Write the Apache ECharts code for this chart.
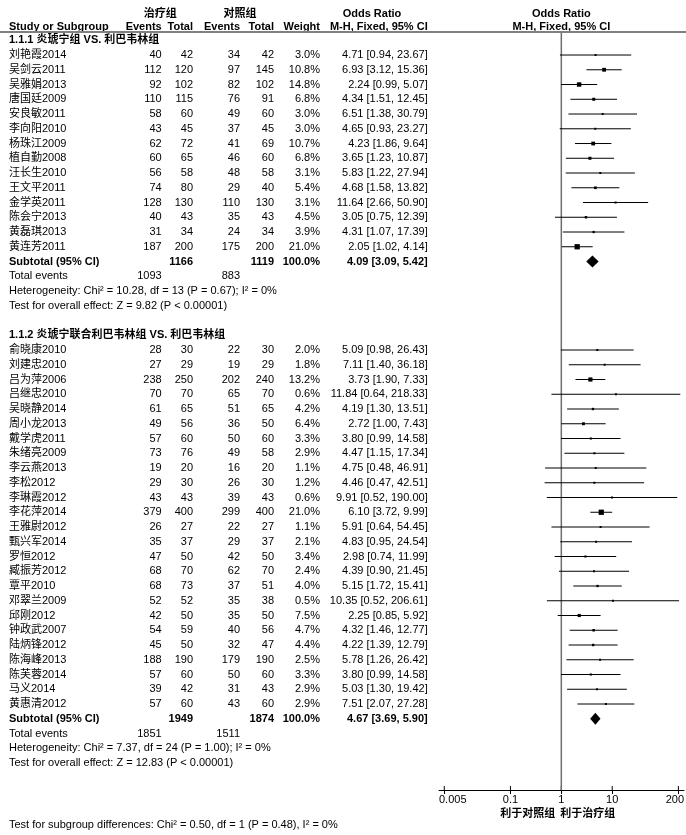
<!DOCTYPE html>
<html>
<head>
<meta charset="utf-8">
<script src="https://cdn.jsdelivr.net/npm/echarts@6/dist/echarts.min.js"></script>
<style>
html, body { margin: 0; padding: 0; background: #fff; }
#chart { width: 686px; height: 835px; }
</style>
</head>
<body>
<div id="chart"></div>
<script>
// ---- Subgroup 1.1.1 ----
const groupTitles = ['1.1.1 炎琥宁组 VS. 利巴韦林组', '1.1.2 炎琥宁联合利巴韦林组 VS. 利巴韦林组'];

const studies1 = ['刘艳霞2014', '吴剑云2011', '吴雅娟2013', '唐国廷2009', '安良敏2011', '李向阳2010', '杨珠江2009',
  '植自勤2008', '汪长生2010', '王文平2011', '金学英2011', '陈会宁2013', '黄磊琪2013', '黄连芳2011'];
const expEvents1 = [40, 112, 92, 110, 58, 43, 62, 60, 56, 74, 128, 40, 31, 187];
const expTotal1 = [42, 120, 102, 115, 60, 45, 72, 65, 58, 80, 130, 43, 34, 200];
const ctlEvents1 = [34, 97, 82, 76, 49, 37, 41, 46, 48, 29, 110, 35, 24, 175];
const ctlTotal1 = [42, 145, 102, 91, 60, 45, 69, 60, 58, 40, 130, 43, 34, 200];
const weight1 = [3.0, 10.8, 14.8, 6.8, 3.0, 3.0, 10.7, 6.8, 3.1, 5.4, 3.1, 4.5, 3.9, 21.0];
const or1 = [4.71, 6.93, 2.24, 4.34, 6.51, 4.65, 4.23, 3.65, 5.83, 4.68, 11.64, 3.05, 4.31, 2.05];
const lo1 = [0.94, 3.12, 0.99, 1.51, 1.38, 0.93, 1.86, 1.23, 1.22, 1.58, 2.66, 0.75, 1.07, 1.02];
const hi1 = [23.67, 15.36, 5.07, 12.45, 30.79, 23.27, 9.64, 10.87, 27.94, 13.82, 50.90, 12.39, 17.39, 4.14];

// ---- Subgroup 1.1.2 ----
const studies2 = ['俞晓康2010', '刘建忠2010', '吕为萍2006', '吕继忠2010', '吴晓静2014', '周小龙2013', '戴学虎2011',
  '朱绪亮2009', '李云燕2013', '李松2012', '李琳霞2012', '李花萍2014', '王雅尉2012', '甄兴军2014', '罗恒2012',
  '臧振芳2012', '覃平2010', '邓翠兰2009', '邱刚2012', '钟政武2007', '陆炳锋2012', '陈海峰2013', '陈芙蓉2014',
  '马义2014', '黄惠清2012'];
const expEvents2 = [28, 27, 238, 70, 61, 49, 57, 73, 19, 29, 43, 379, 26, 35, 47, 68, 68, 52, 42, 54, 45, 188, 57, 39, 57];
const expTotal2 = [30, 29, 250, 70, 65, 56, 60, 76, 20, 30, 43, 400, 27, 37, 50, 70, 73, 52, 50, 59, 50, 190, 60, 42, 60];
const ctlEvents2 = [22, 19, 202, 65, 51, 36, 50, 49, 16, 26, 39, 299, 22, 29, 42, 62, 37, 35, 35, 40, 32, 179, 50, 31, 43];
const ctlTotal2 = [30, 29, 240, 70, 65, 50, 60, 58, 20, 30, 43, 400, 27, 37, 50, 70, 51, 38, 50, 56, 47, 190, 60, 43, 60];
const weight2 = [2.0, 1.8, 13.2, 0.6, 4.2, 6.4, 3.3, 2.9, 1.1, 1.2, 0.6, 21.0, 1.1, 2.1, 3.4, 2.4, 4.0, 0.5, 7.5, 4.7, 4.4, 2.5, 3.3, 2.9, 2.9];
const or2 = [5.09, 7.11, 3.73, 11.84, 4.19, 2.72, 3.80, 4.47, 4.75, 4.46, 9.91, 6.10, 5.91, 4.83, 2.98, 4.39, 5.15, 10.35, 2.25, 4.32, 4.22, 5.78, 3.80, 5.03, 7.51];
const lo2 = [0.98, 1.40, 1.90, 0.64, 1.30, 1.00, 0.99, 1.15, 0.48, 0.47, 0.52, 3.72, 0.64, 0.95, 0.74, 0.90, 1.72, 0.52, 0.85, 1.46, 1.39, 1.26, 0.99, 1.30, 2.07];
const hi2 = [26.43, 36.18, 7.33, 218.33, 13.51, 7.43, 14.58, 17.34, 46.91, 42.51, 190.00, 9.99, 54.45, 24.54, 11.99, 21.45, 15.41, 206.61, 5.92, 12.77, 12.79, 26.42, 14.58, 19.42, 27.28];

// ---- Subtotals and summary statistics per subgroup ----
const subExpTotal = [1166, 1949];
const subCtlTotal = [1119, 1874];
const subOR = [4.09, 4.67];
const subLo = [3.09, 3.69];
const subHi = [5.42, 5.90];
const totalExpEvents = [1093, 1851];
const totalCtlEvents = [883, 1511];
const heterogeneity = ['Heterogeneity: Chi² = 10.28, df = 13 (P = 0.67); I² = 0%',
  'Heterogeneity: Chi² = 7.37, df = 24 (P = 1.00); I² = 0%'];
const overallEffect = ['Test for overall effect: Z = 9.82 (P < 0.00001)',
  'Test for overall effect: Z = 12.83 (P < 0.00001)'];
const subgroupDiff = 'Test for subgroup differences: Chi² = 0.50, df = 1 (P = 0.48), I² = 0%';

// ---- Axis ----
const axisTicks = [0.005, 0.1, 1, 10, 200];
const axisTickLabels = ['0.005', '0.1', '1', '10', '200'];
const favoursLabels = ['利于对照组', '利于治疗组'];

// ---- Layout (row units on the shared vertical axis) ----
const ROW_MIN = -2.73, ROW_MAX = 50.83;
const HEAD_ROW1 = -1.8, HEAD_ROW2 = -0.9, RULE_ROW = -0.56;
const TICK_LABEL_ROW = 51.5, FAVOURS_ROW = 52.45, FOOTNOTE_ROW = 53.2;
const X_MIN = 0.00394, X_MAX = 258;
const COL = { name: 9, e1: 161.7, t1: 193, e2: 240, t2: 274, w: 320, or: 427.7 };
const FONT = '"Liberation Sans", Arial, "Noto Sans CJK SC", sans-serif';

const groups = [
  { studies: studies1, ee: expEvents1, et: expTotal1, ce: ctlEvents1, ct: ctlTotal1, w: weight1, or: or1, lo: lo1, hi: hi1 },
  { studies: studies2, ee: expEvents2, et: expTotal2, ce: ctlEvents2, ct: ctlTotal2, w: weight2, or: or2, lo: lo2, hi: hi2 }
];

const fmtCI = (o, l, h) => o.toFixed(2) + ' [' + l.toFixed(2) + ', ' + h.toFixed(2) + ']';

// Table cells (left grid) and marks (right grid)
const cells = [];
const plotCells = [];
const studyMarks = [];
const subMarks = [];
const cell = (x, r, text, align, bold) => cells.push({ x, r, text: String(text), align: align || 'right', bold: !!bold });

// Column headers
cell((COL.e1 - 34 + COL.t1) / 2, HEAD_ROW1, '治疗组', 'center', true);
cell((COL.e2 - 34 + COL.t2) / 2, HEAD_ROW1, '对照组', 'center', true);
cell(372, HEAD_ROW1, 'Odds Ratio', 'center', true);
cell(COL.name, HEAD_ROW2, 'Study or Subgroup', 'left', true);
cell(COL.e1, HEAD_ROW2, 'Events', 'right', true);
cell(COL.t1, HEAD_ROW2, 'Total', 'right', true);
cell(COL.e2, HEAD_ROW2, 'Events', 'right', true);
cell(COL.t2, HEAD_ROW2, 'Total', 'right', true);
cell(COL.w, HEAD_ROW2, 'Weight', 'right', true);
cell(COL.or, HEAD_ROW2, 'M-H, Fixed, 95% CI', 'right', true);
plotCells.push({ x: 1, r: HEAD_ROW1, text: 'Odds Ratio', align: 'center', bold: true });
plotCells.push({ x: 1, r: HEAD_ROW2, text: 'M-H, Fixed, 95% CI', align: 'center', bold: true });

let row = 0;
groups.forEach((g, gi) => {
  cell(COL.name, row, groupTitles[gi], 'left', true);
  row++;
  g.studies.forEach((s, i) => {
    cell(COL.name, row, s, 'left');
    cell(COL.e1, row, g.ee[i]);
    cell(COL.t1, row, g.et[i]);
    cell(COL.e2, row, g.ce[i]);
    cell(COL.t2, row, g.ct[i]);
    cell(COL.w, row, g.w[i].toFixed(1) + '%');
    cell(COL.or, row, fmtCI(g.or[i], g.lo[i], g.hi[i]));
    studyMarks.push([g.or[i], g.lo[i], g.hi[i], row, g.w[i]]);
    row++;
  });
  cell(COL.name, row, 'Subtotal (95% CI)', 'left', true);
  cell(COL.t1, row, subExpTotal[gi], 'right', true);
  cell(COL.t2, row, subCtlTotal[gi], 'right', true);
  cell(COL.w, row, '100.0%', 'right', true);
  cell(COL.or, row, fmtCI(subOR[gi], subLo[gi], subHi[gi]), 'right', true);
  subMarks.push([subOR[gi], subLo[gi], subHi[gi], row]);
  row++;
  cell(COL.name, row, 'Total events', 'left');
  cell(COL.e1, row, totalExpEvents[gi]);
  cell(COL.e2, row, totalCtlEvents[gi]);
  row++;
  cell(COL.name, row, heterogeneity[gi], 'left');
  row++;
  cell(COL.name, row, overallEffect[gi], 'left');
  row++;
  row++; // blank spacer row
});
cell(COL.name, FOOTNOTE_ROW, subgroupDiff, 'left');
plotCells.push({ x: 1, r: FAVOURS_ROW, text: favoursLabels[0], align: 'right', bold: true, dx: -6 });
plotCells.push({ x: 1, r: FAVOURS_ROW, text: favoursLabels[1], align: 'left', bold: true, dx: -1 });

const textFont = bold => (bold ? 'bold ' : '') + '11px ' + FONT;

function textRenderer(list) {
  return function (params, api) {
    const c = list[params.dataIndex];
    const p = api.coord([c.x, c.r]);
    return {
      type: 'text',
      x: p[0] + (c.dx || 0),
      y: p[1],
      style: { text: c.text, align: c.align, verticalAlign: 'middle', font: textFont(c.bold), fill: '#000' }
    };
  };
}

const yAxisBase = { type: 'value', inverse: true, min: ROW_MIN, max: ROW_MAX, show: false };

const chart = echarts.init(document.getElementById('chart'), null, { renderer: 'canvas' });
chart.setOption({
  animation: false,
  backgroundColor: '#fff',
  grid: [
    { left: 0, width: 430, top: 0, bottom: 45, outerBoundsMode: 'none', containLabel: false },
    { left: 439, width: 245, top: 0, bottom: 45, outerBoundsMode: 'none', containLabel: false }
  ],
  xAxis: [
    { gridIndex: 0, type: 'value', min: 0, max: 430, show: false },
    {
      gridIndex: 1, type: 'log', logBase: 10, min: X_MIN, max: X_MAX, position: 'bottom',
      splitLine: { show: false },
      axisLine: { show: true, onZero: false, lineStyle: { color: '#000', width: 1 } },
      axisTick: { show: true, customValues: axisTicks, length: 4, inside: false, lineStyle: { color: '#000' } },
      axisLabel: { show: false }
    }
  ],
  yAxis: [
    Object.assign({ gridIndex: 0 }, yAxisBase),
    Object.assign({ gridIndex: 1 }, yAxisBase)
  ],
  graphic: [
    { type: 'line', z: 10, shape: { x1: 0, y1: 32, x2: 686, y2: 32 }, style: { stroke: '#808080', lineWidth: 2 } }
  ],
  series: [
    {
      type: 'custom', xAxisIndex: 0, yAxisIndex: 0,
      data: cells.map(c => [c.x, c.r]),
      renderItem: textRenderer(cells), silent: true
    },
    {
      type: 'custom', xAxisIndex: 1, yAxisIndex: 1,
      data: plotCells.map(c => [c.x, c.r]),
      renderItem: textRenderer(plotCells), silent: true
    },
    {
      // axis tick labels, end labels kept inside the axis line
      type: 'custom', xAxisIndex: 1, yAxisIndex: 1,
      data: axisTicks.map(t => [t, TICK_LABEL_ROW]),
      renderItem: (params, api) => {
        const i = params.dataIndex;
        const p = api.coord([api.value(0), api.value(1)]);
        const cs = params.coordSys;
        let x = p[0], align = 'center';
        if (i === 0) { x = cs.x; align = 'left'; }
        else if (i === axisTicks.length - 1) { x = cs.x + cs.width; align = 'right'; }
        return {
          type: 'text', x, y: p[1],
          style: { text: axisTickLabels[i], align, verticalAlign: 'middle', font: textFont(false), fill: '#000' }
        };
      }, silent: true
    },
    {
      // upper half of the crossing axis ticks
      type: 'custom', xAxisIndex: 1, yAxisIndex: 1,
      data: axisTicks.map(t => [t, ROW_MAX]),
      renderItem: (params, api) => {
        const p = api.coord([api.value(0), api.value(1)]);
        return { type: 'line', shape: { x1: p[0], y1: p[1] - 4, x2: p[0], y2: p[1] }, style: { stroke: '#000', lineWidth: 1 } };
      }, silent: true
    },
    {
      // line of no effect (OR = 1)
      type: 'custom', xAxisIndex: 1, yAxisIndex: 1,
      data: [[1, RULE_ROW, ROW_MAX]],
      renderItem: (params, api) => {
        const a = api.coord([api.value(0), api.value(1)]);
        const b = api.coord([api.value(0), api.value(2)]);
        return { type: 'line', shape: { x1: a[0], y1: a[1], x2: b[0], y2: b[1] }, style: { stroke: '#6e6e6e', lineWidth: 1.5 } };
      }, silent: true
    },
    {
      // study estimates: CI whisker + weighted square
      type: 'custom', xAxisIndex: 1, yAxisIndex: 1,
      data: studyMarks,
      encode: { x: [0, 1, 2], y: 3 },
      renderItem: (params, api) => {
        const r = api.value(3);
        const c = api.coord([api.value(0), r]);
        const a = api.coord([api.value(1), r]);
        const b = api.coord([api.value(2), r]);
        const s = Math.max(2, Math.sqrt(api.value(4)) * 1.15);
        return {
          type: 'group', children: [
            { type: 'line', shape: { x1: a[0], y1: a[1], x2: b[0], y2: b[1] }, style: { stroke: '#000', lineWidth: 1 } },
            { type: 'rect', shape: { x: c[0] - s / 2, y: c[1] - s / 2, width: s, height: s }, style: { fill: '#000' } }
          ]
        };
      }, silent: true
    },
    {
      // subtotal diamonds
      type: 'custom', xAxisIndex: 1, yAxisIndex: 1,
      data: subMarks,
      encode: { x: [0, 1, 2], y: 3 },
      renderItem: (params, api) => {
        const r = api.value(3);
        const c = api.coord([api.value(0), r]);
        const a = api.coord([api.value(1), r]);
        const b = api.coord([api.value(2), r]);
        const h = 6;
        return {
          type: 'polygon',
          shape: { points: [[a[0], c[1]], [c[0], c[1] - h], [b[0], c[1]], [c[0], c[1] + h]] },
          style: { fill: '#000' }
        };
      }, silent: true
    }
  ]
});
</script>
</body>
</html>
